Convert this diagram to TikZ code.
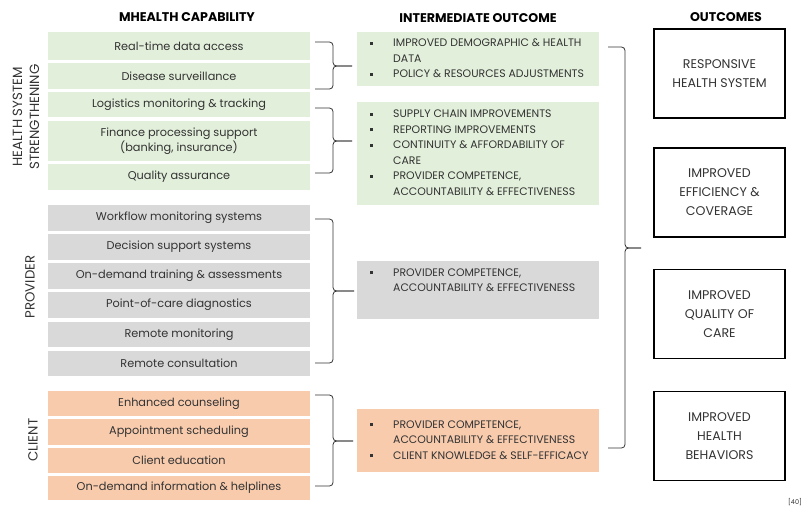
\documentclass[tikz,border=0pt]{standalone}
\usepackage{fontspec}
\setmainfont{Poppins}
\definecolor{hsgreen}{HTML}{E2EFDA}
\definecolor{provgray}{HTML}{D9D9D9}
\definecolor{clientorange}{HTML}{F8CBAD}
\definecolor{ink}{HTML}{333333}
\newcommand{\sqbul}{\raisebox{2pt}{\rule{2.6pt}{2.6pt}}}

\begin{document}
\begin{tikzpicture}[x=1pt,y=-1pt,
    capbox/.style={fill=#1, minimum width=262pt, inner sep=0pt, text=ink,
      align=center, font=\fontsize{11.3}{13.5}\selectfont},
    ibox/.style={fill=#1, minimum width=242pt, inner sep=0pt},
    itext/.style={anchor=base west, inner sep=0pt, text=ink,
      font=\fontsize{10.9}{15.5}\selectfont},
    obox/.style={draw=black, line width=1.6pt, minimum width=131pt,
      minimum height=89pt, inner sep=0pt, align=center, text=ink,
      font=\fontsize{12.6}{19}\selectfont},
    hdr/.style={text=black, font=\bfseries\fontsize{12.6}{14}\selectfont},
    side/.style={rotate=90, align=center, text=ink,
      font=\fontsize{13.3}{17}\selectfont},
    curly/.style={draw=ink, line width=0.8pt, rounded corners=3.5pt}]
  %uncomment to see the pixel grid the layout was measured on:
  %\draw[dotted,step=50,black,very thin] (0,0) grid (810,507);
  \useasboundingbox (0,0) rectangle (810,507);

  % column headers
  \node[hdr] (hcap) at (187,17) {MHEALTH CAPABILITY};
  \node[hdr] (hint) at (478,18) {INTERMEDIATE OUTCOME};
  \node[hdr] (hout) at (726,17) {OUTCOMES};

  % row labels
  \node[side] (lhs) at (26,117) {HEALTH SYSTEM\\STRENGTHENING};
  \node[side] (lprov) at (30,287) {PROVIDER};
  \node[side] (lcli) at (33,440) {CLIENT};

  % health system strengthening capabilities
  \node[capbox=hsgreen, minimum height=28pt] (rt) at (179,46) {Real-time data access};
  \node[capbox=hsgreen, minimum height=26pt] (ds) at (179,76) {Disease surveillance};
  \node[capbox=hsgreen, minimum height=25pt] (lm) at (179,104.5) {Logistics monitoring \& tracking};
  \node[capbox=hsgreen, minimum height=40pt] (fp) at (179,141) {Finance processing support\\(banking, insurance)};
  \node[capbox=hsgreen, minimum height=26pt] (qa) at (179,177) {Quality assurance};
  % provider capabilities
  \node[capbox=provgray, minimum height=26pt] (wf) at (179,218) {Workflow monitoring systems};
  \node[capbox=provgray, minimum height=26pt] (dss) at (179,247) {Decision support systems};
  \node[capbox=provgray, minimum height=26pt] (odt) at (179,276) {On-demand training \& assessments};
  \node[capbox=provgray, minimum height=26pt] (poc) at (179,305) {Point-of-care diagnostics};
  \node[capbox=provgray, minimum height=25pt] (rm) at (179,334.5) {Remote monitoring};
  \node[capbox=provgray, minimum height=25pt] (rc) at (179,363.5) {Remote consultation};
  % client capabilities
  \node[capbox=clientorange, minimum height=25pt] (ec) at (179,403.5) {Enhanced counseling};
  \node[capbox=clientorange, minimum height=26pt] (as) at (179,432) {Appointment scheduling};
  \node[capbox=clientorange, minimum height=25pt] (ce) at (179,460.5) {Client education};
  \node[capbox=clientorange, minimum height=24pt] (odi) at (179,488) {On-demand information \& helplines};

  % intermediate outcome boxes
  \node[ibox=hsgreen, minimum height=54pt] (i1) at (478,59) {};
  \node[ibox=hsgreen, minimum height=103pt] (i2) at (478,153.5) {};
  \node[ibox=provgray, minimum height=58pt] (i3) at (478,290) {};
  \node[ibox=clientorange, minimum height=63pt] (i4) at (478,440.5) {};
  % their bullet lists
  \node[itext] (i1t) at (370,46.5) {\begin{tabular}[t]{@{}p{23pt}@{}l@{}}
    \sqbul & IMPROVED DEMOGRAPHIC \& HEALTH\\
           & DATA\\
    \sqbul & POLICY \& RESOURCES ADJUSTMENTS
  \end{tabular}};
  \node[itext] (i2t) at (370,117.5) {\begin{tabular}[t]{@{}p{23pt}@{}l@{}}
    \sqbul & SUPPLY CHAIN IMPROVEMENTS\\
    \sqbul & REPORTING IMPROVEMENTS\\
    \sqbul & CONTINUITY \& AFFORDABILITY OF\\
           & CARE\\
    \sqbul & PROVIDER COMPETENCE,\\
           & ACCOUNTABILITY \& EFFECTIVENESS
  \end{tabular}};
  \node[itext] (i3t) at (370,276) {\begin{tabular}[t]{@{}p{23pt}@{}l@{}}
    \sqbul & PROVIDER COMPETENCE,\\
           & ACCOUNTABILITY \& EFFECTIVENESS
  \end{tabular}};
  \node[itext] (i4t) at (370,428) {\begin{tabular}[t]{@{}p{23pt}@{}l@{}}
    \sqbul & PROVIDER COMPETENCE,\\
           & ACCOUNTABILITY \& EFFECTIVENESS\\
    \sqbul & CLIENT KNOWLEDGE \& SELF-EFFICACY
  \end{tabular}};

  % outcomes
  \node[obox] (o1) at (719.5,73.5) {RESPONSIVE\\HEALTH SYSTEM};
  \node[obox] (o2) at (719.5,192.5) {IMPROVED\\EFFICIENCY \&\\COVERAGE};
  \node[obox] (o3) at (719.5,314) {IMPROVED\\QUALITY OF\\CARE};
  \node[obox] (o4) at (719.5,436) {IMPROVED\\HEALTH\\BEHAVIORS};

  % braces, capability -> intermediate outcome
  \draw[curly] (315,42) -- (333,42) -- (333,66) -- (352,66);
  \draw[curly] (352,66) -- (333,66) -- (333,89) -- (315,89);
  \draw[curly] (315,108) -- (333,108) -- (333,141) -- (352,141);
  \draw[curly] (352,141) -- (333,141) -- (333,173) -- (315,173);
  \draw[curly] (315,219) -- (333,219) -- (333,291) -- (354,291);
  \draw[curly] (354,291) -- (333,291) -- (333,363) -- (315,363);
  \draw[curly] (315,395) -- (333,395) -- (333,441) -- (353,441);
  \draw[curly] (353,441) -- (333,441) -- (333,486) -- (315,486);
  % the big brace, intermediate -> outcomes
  \draw[curly] (608,47) -- (625,47) -- (625,248) -- (641,248);
  \draw[curly] (641,248) -- (625,248) -- (625,448) -- (608,448);

  % source tag
  \node[font=\fontsize{6.5}{7}\selectfont, text=ink] (src) at (795,502) {[40]};
\end{tikzpicture}
\end{document}
